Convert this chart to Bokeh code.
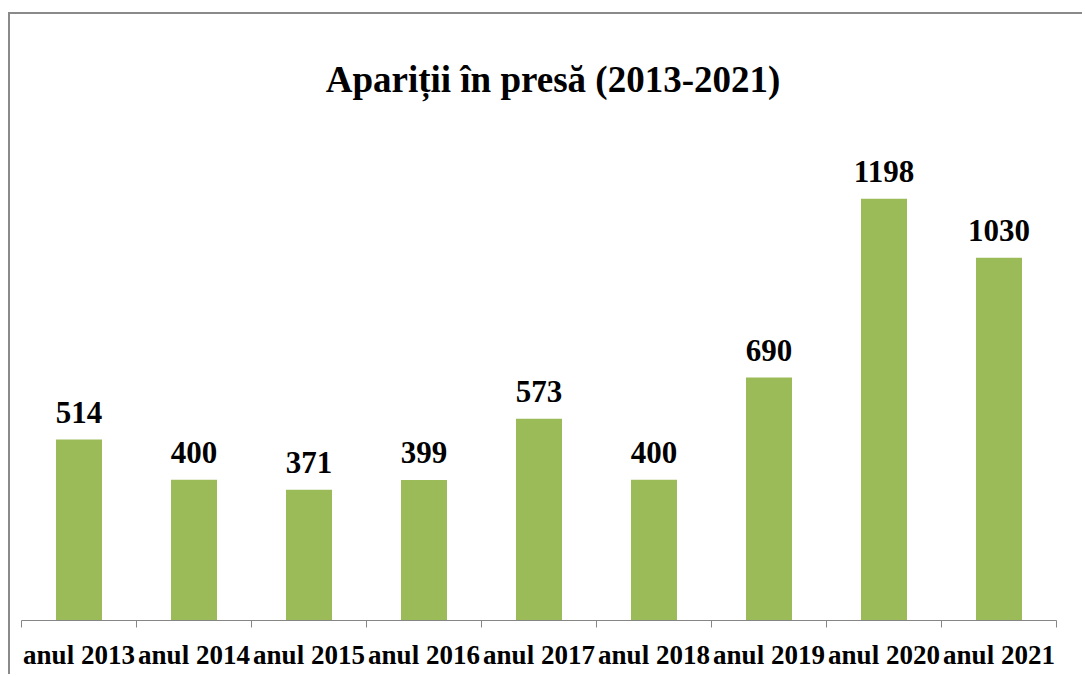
from bokeh.plotting import figure
from bokeh.models import ColumnDataSource, LabelSet, Label, FixedTicker, Range1d
from bokeh.embed import file_html
from bokeh.resources import INLINE

categories = ["anul 2013", "anul 2014", "anul 2015", "anul 2016", "anul 2017",
              "anul 2018", "anul 2019", "anul 2020", "anul 2021"]
values = [514, 400, 371, 399, 573, 400, 690, 1198, 1030]
title_text = "Apariții în presă (2013-2021)"

FONT = "Liberation Serif"
n = len(categories)
YTOP = 1721      # range top, leaves room for the title inside the frame
TITLE_Y = 1535   # title baseline position in value units
xs = [i + 0.5 for i in range(n)]
src = ColumnDataSource(dict(x=xs, top=values, label=[str(v) for v in values]))

p = figure(width=1074, height=662, output_backend="svg", toolbar_location=None, title=None,
           x_range=Range1d(0, n), y_range=Range1d(0, YTOP),
           min_border_left=11, min_border_right=28, min_border_top=0, min_border_bottom=56)
p.styles = {"border-left": "2px solid #8a8a8a", "border-top": "2px solid #8a8a8a",
            "margin-top": "12px", "margin-left": "8px"}

p.vbar(x="x", top="top", width=0.4, source=src, fill_color="#9BBB59", line_color=None)

labels = LabelSet(x="x", y="top", text="label", source=src, y_offset=17,
                  text_align="center", text_baseline="alphabetic",
                  text_font=FONT, text_font_style="bold", text_font_size="31px", text_color="black")
p.add_layout(labels)

title = Label(x=n / 2, y=TITLE_Y, x_offset=14, text=title_text,
              text_align="center", text_baseline="alphabetic",
              text_font=FONT, text_font_style="bold", text_font_size="37px", text_color="black")
p.add_layout(title)

p.yaxis.visible = False
p.xgrid.visible = False
p.ygrid.visible = False
p.outline_line_color = None

ax = p.xaxis[0]
ax.ticker = FixedTicker(ticks=xs, minor_ticks=list(range(n + 1)))
ax.major_label_overrides = {x: c for x, c in zip(xs, categories)}
ax.major_tick_out = 0
ax.major_tick_in = 0
ax.minor_tick_out = 7
ax.minor_tick_in = 0
ax.minor_tick_line_color = "#868686"
ax.axis_line_color = "#868686"
ax.major_label_standoff = 12
ax.major_label_text_font = FONT
ax.major_label_text_font_style = "bold"
ax.major_label_text_font_size = "27px"
ax.major_label_text_color = "black"

open("out.html", "w").write(file_html(p, INLINE))
